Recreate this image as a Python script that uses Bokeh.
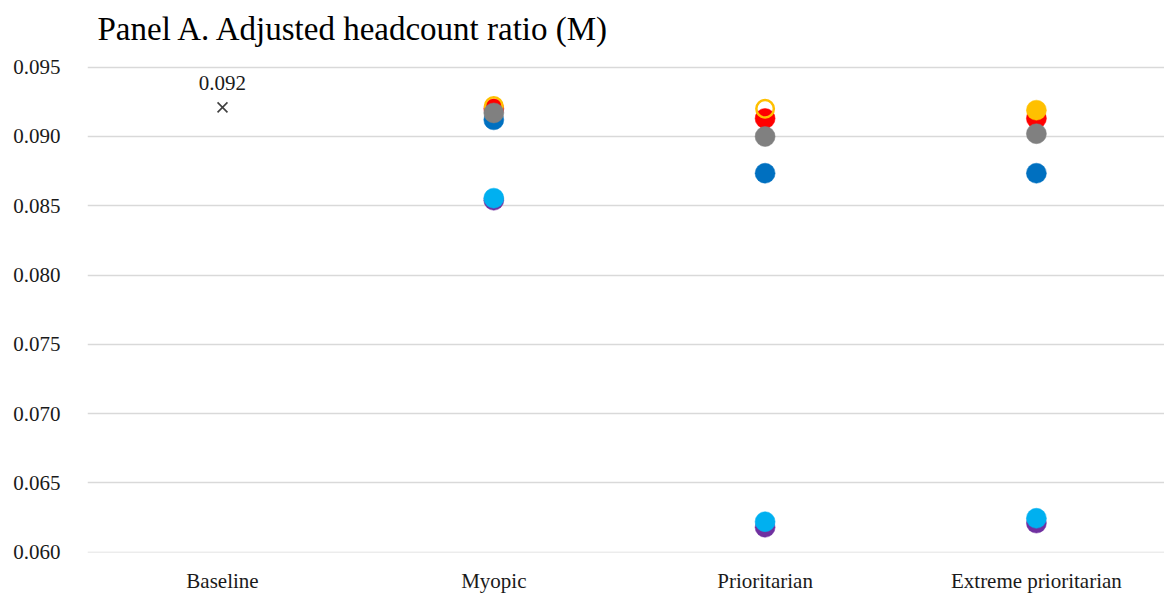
import math
from bokeh.plotting import figure
from bokeh.models import FixedTicker, Label, ColumnDataSource, NumeralTickFormatter
from bokeh.embed import file_html
from bokeh.resources import INLINE

# ---------------- data ----------------
categories = ["Baseline", "Myopic", "Prioritarian", "Extreme prioritarian"]
baseline = 0.0921
y_ticks = [0.060, 0.065, 0.070, 0.075, 0.080, 0.085, 0.090, 0.095]

nan = float("nan")
purple_vals = [nan, 0.0854, 0.0618, 0.0621]
lightblue_vals = [nan, 0.08555, 0.0622, 0.06245]
blue_vals = [nan, 0.0912, 0.08735, 0.08735]
red_vals = [nan, 0.0920, 0.0913, 0.0913]
orange_open_vals = [nan, 0.0922, 0.0920, nan]
orange_fill_vals = [nan, nan, nan, 0.0919]
gray_vals = [nan, 0.0917, 0.0900, 0.0902]

title_text = "Panel A. Adjusted headcount ratio (M)"

# ---------------- layout ----------------
W, H = 1164, 596
ML, MR, MT, MB = 87, 0, 0, 44
frame_w = W - ML - MR
frame_h = H - MT - MB
# 0.060 -> 552px, 0.095 -> 67px (page coords)
px_per_unit = (552 - 67) / (0.095 - 0.060)
Y0 = 0.060 - 0.3 / px_per_unit
Y1 = Y0 + frame_h / px_per_unit
X0 = -0.4976
X1 = X0 + frame_w / 271.3
FONT = "Liberation Serif"

def px_to_x(px):
    return X0 + (px - ML) / frame_w * (X1 - X0)

def py_to_y(py):
    return Y1 - (py - MT) / frame_h * (Y1 - Y0)

p = figure(width=W, height=H, output_backend="svg", toolbar_location=None,
           x_range=(X0, X1), y_range=(Y0, Y1),
           min_border_left=ML, min_border_right=MR,
           min_border_top=MT, min_border_bottom=MB)
p.outline_line_color = None
p.xgrid.grid_line_color = None
p.ygrid.grid_line_color = "#d9d9d9"
p.ygrid.grid_line_width = 1.4

xs = list(range(len(categories)))

p.xaxis.ticker = FixedTicker(ticks=xs)
p.xaxis.major_label_overrides = {i: c for i, c in enumerate(categories)}
p.yaxis.ticker = FixedTicker(ticks=y_ticks)
p.yaxis.formatter = NumeralTickFormatter(format="0.000")
for ax in (p.xaxis, p.yaxis):
    ax.axis_line_color = None
    ax.major_tick_line_color = None
    ax.minor_tick_line_color = None
    ax.major_tick_out = 0
    ax.major_tick_in = 0
    ax.minor_tick_out = 0
    ax.minor_tick_in = 0
    ax.major_label_text_font = FONT
    ax.major_label_text_font_size = "21px"
    ax.major_label_text_color = "#1a1a1a"
p.xaxis.major_label_standoff = 16
p.yaxis.major_label_standoff = 27

SIZE = 20

def dots(vals, color, fill=True):
    src = ColumnDataSource(dict(x=[x for x, v in zip(xs, vals) if not math.isnan(v)],
                                y=[v for v in vals if not math.isnan(v)]))
    if fill:
        p.scatter("x", "y", source=src, marker="circle", size=SIZE,
                  fill_color=color, line_color=color, line_width=0.5)
    else:
        p.scatter("x", "y", source=src, marker="circle", size=SIZE - 2.5,
                  fill_color=None, line_color=color, line_width=2.5)

dots(purple_vals, "#7030A0")
dots(lightblue_vals, "#00B0F0")
dots(blue_vals, "#0070C0")
dots(red_vals, "#FF0000")
dots(orange_open_vals, "#FFC000", fill=False)
dots(orange_fill_vals, "#FFC000")
dots(gray_vals, "#808080")

# baseline cross with its value label
p.scatter([0], [baseline], marker="x", size=14, line_color="#404040", line_width=1.6)
p.add_layout(Label(x=0, y=baseline, text=f"{baseline:.3f}", text_font=FONT,
                   text_font_size="21px", text_align="center",
                   text_baseline="alphabetic", y_offset=24, text_color="#1a1a1a"))

# chart title, drawn inside the (extended) frame above the top gridline
p.add_layout(Label(x=px_to_x(97), y=py_to_y(28), text=title_text, text_font=FONT,
                   text_font_size="33px", text_align="left",
                   text_baseline="alphabetic", text_color="#000000"))

open("out.html", "w").write(file_html(p, INLINE))
